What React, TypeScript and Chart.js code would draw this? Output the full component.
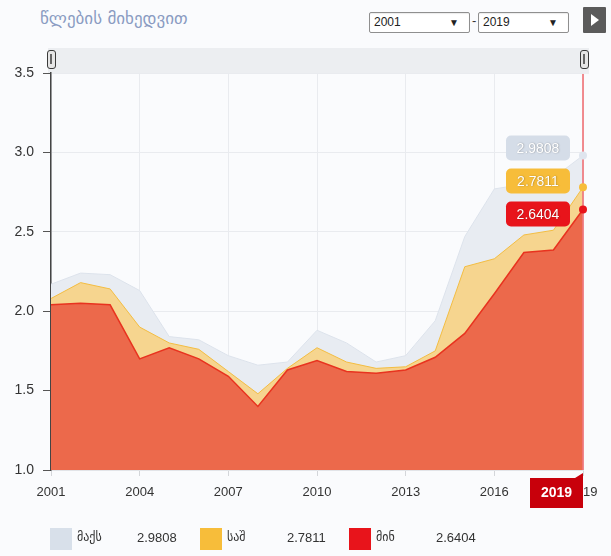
import React, { useEffect, useRef } from "react";
import { Chart, registerables } from "chart.js";

Chart.register(...registerables);

const years = ["2001", "2002", "2003", "2004", "2005", "2006", "2007", "2008", "2009", "2010", "2011", "2012", "2013", "2014", "2015", "2016", "2017", "2018", "2019"];
const maxValues = [2.17, 2.24, 2.23, 2.13, 1.84, 1.82, 1.72, 1.66, 1.68, 1.88, 1.8, 1.68, 1.72, 1.94, 2.47, 2.77, 2.8, 2.84, 2.9808];
const avgValues = [2.08, 2.18, 2.14, 1.9, 1.8, 1.76, 1.62, 1.48, 1.64, 1.77, 1.68, 1.64, 1.65, 1.75, 2.28, 2.33, 2.48, 2.51, 2.7811];
const minValues = [2.04, 2.05, 2.04, 1.7, 1.77, 1.7, 1.59, 1.4, 1.63, 1.69, 1.62, 1.61, 1.63, 1.71, 1.86, 2.11, 2.37, 2.385, 2.6404];
const seriesNames = ["მაქს", "საშ", "მინ"];
const seriesLabels = ["2.9808", "2.7811", "2.6404"];
const titleText = "წლების მიხედვით";
const rangeFrom = "2001";
const rangeTo = "2019";
const yMin = 1.0;
const yMax = 3.5;
const yStep = 0.5;

const COLORS = {
  maxFill: "#e8ecf2",
  maxLine: "#dde3ec",
  maxBox: "#d5dde8",
  avgFill: "#f6d58f",
  avgLine: "#f3bd42",
  avgBox: "#f7bd3a",
  minFill: "#ec694b",
  minLine: "#e8331f",
  minBox: "#e8141b",
};

const overlayPlugin = {
  id: "overlayPlugin",
  afterDatasetsDraw(chart: any) {
    const ctx = chart.ctx;
    const xs = chart.scales.x;
    const ys = chart.scales.y;
    const area = chart.chartArea;
    const idx = years.length - 1;
    const x = xs.getPixelForValue(idx);
    ctx.save();
    ctx.strokeStyle = "rgba(240,120,125,0.85)";
    ctx.lineWidth = 2;
    ctx.beginPath();
    ctx.moveTo(x, area.top + 1);
    ctx.lineTo(x, area.bottom);
    ctx.stroke();

    const series = [
      { v: maxValues[idx], box: COLORS.maxBox, dot: "#dfe5ee", text: seriesLabels[0] },
      { v: avgValues[idx], box: COLORS.avgBox, dot: "#f7bd3a", text: seriesLabels[1] },
      { v: minValues[idx], box: COLORS.minBox, dot: "#e8141b", text: seriesLabels[2] },
    ];
    series.forEach((s) => {
      const y = ys.getPixelForValue(s.v);
      ctx.beginPath();
      ctx.arc(x, y, 4, 0, Math.PI * 2);
      ctx.fillStyle = s.dot;
      ctx.fill();
    });
    const bh = 25;
    const gap = 33;
    const ysNat = series.map((s) => ys.getPixelForValue(s.v));
    const mean = ysNat.reduce((a, b) => a + b, 0) / ysNat.length;
    const centers = ysNat.map((_, i) => mean + (i - 1) * gap - 3);
    ctx.font = "14px 'Liberation Sans', Arial, sans-serif";
    ctx.textAlign = "center";
    ctx.textBaseline = "middle";
    series.forEach((s, i) => {
      const bw = 64;
      const bx = x - 13 - bw;
      const by = centers[i] - bh / 2;
      ctx.beginPath();
      ctx.roundRect(bx, by, bw, bh, 5);
      ctx.fillStyle = s.box;
      ctx.fill();
      ctx.save();
      ctx.shadowColor = "rgba(0,0,0,0.35)";
      ctx.shadowBlur = 1.5;
      ctx.shadowOffsetX = 0.5;
      ctx.shadowOffsetY = 0.5;
      ctx.fillStyle = "#ffffff";
      ctx.fillText(s.text, bx + bw / 2, by + bh / 2 + 1);
      ctx.restore();
    });

    const boxR = x;
    const boxL = x - 53;
    const boxT = area.bottom + 8;
    const boxB = area.bottom + 38;
    ctx.beginPath();
    ctx.moveTo(boxL, boxT);
    ctx.lineTo(boxR - 8, boxT);
    ctx.lineTo(boxR, boxT - 5);
    ctx.lineTo(boxR, boxB);
    ctx.lineTo(boxL, boxB);
    ctx.closePath();
    ctx.fillStyle = "#c8000b";
    ctx.fill();
    ctx.fillStyle = "#ffffff";
    ctx.font = "bold 14px 'Liberation Sans', Arial, sans-serif";
    ctx.fillText(years[idx], (boxL + boxR) / 2, (boxT + boxB) / 2);
    ctx.restore();
  },
};

function ChartCanvas() {
  const ref = useRef<HTMLCanvasElement | null>(null);
  useEffect(() => {
    if (!ref.current) return;
    const lineDs = (label: string, data: number[], fill: string, line: string, w: number) => ({
      label,
      data,
      backgroundColor: fill,
      borderColor: line,
      borderWidth: w,
      fill: "start",
      pointRadius: 0,
      tension: 0,
    });
    const chart = new Chart(ref.current, {
      type: "line",
      data: {
        labels: years,
        datasets: [
          lineDs(seriesNames[2], minValues, COLORS.minFill, COLORS.minLine, 1.5),
          lineDs(seriesNames[1], avgValues, COLORS.avgFill, COLORS.avgLine, 1),
          lineDs(seriesNames[0], maxValues, COLORS.maxFill, COLORS.maxLine, 1),
        ],
      },
      options: {
        animation: false,
        responsive: false,
        devicePixelRatio: 1,
        layout: { padding: { top: 73, right: 28, bottom: 56, left: 0 } },
        plugins: { legend: { display: false }, tooltip: { enabled: false } },
        scales: {
          x: {
            type: "category",
            offset: false,
            afterFit: (s: any) => {
              s.height = 30;
            },
            grid: {
              color: (c: any) => (c.index % 3 === 0 ? "#e9ebef" : "rgba(0,0,0,0)"),
              tickColor: (c: any) => (c.index % 3 === 0 ? "#d4d6da" : "rgba(0,0,0,0)"),
              tickLength: 6,
            },
            border: { display: true, color: "#e2e4e8" },
            ticks: {
              autoSkip: false,
              maxRotation: 0,
              padding: 9,
              color: "#333",
              font: { family: "'Liberation Sans', Arial, sans-serif", size: 13 },
              callback: (_v: any, i: number) => (i % 3 === 0 ? years[i] : ""),
            },
          },
          y: {
            min: yMin,
            max: yMax,
            afterFit: (s: any) => {
              s.width = 51;
            },
            grid: { color: "#e9ebef", tickColor: "#555", tickLength: 8 },
            border: { display: true, color: "#444", width: 1.5 },
            ticks: {
              stepSize: yStep,
              padding: 9,
              color: "#333",
              font: { family: "'Liberation Sans', Arial, sans-serif", size: 14 },
              callback: (v: any) => Number(v).toFixed(1),
            },
          },
        },
      },
      plugins: [overlayPlugin],
    });
    return () => chart.destroy();
  }, []);
  return <canvas ref={ref} width={611} height={556} style={{ position: "absolute", left: 0, top: 0, width: 611, height: 556 }} />;
}

const selectStyle: React.CSSProperties = {
  position: "absolute",
  top: 12,
  height: 21,
  boxSizing: "border-box",
  border: "1px solid #8f8f8f",
  borderRadius: 2,
  background: "#fff",
  fontFamily: "'Liberation Sans', Arial, sans-serif",
  fontSize: 12,
  color: "#222",
  lineHeight: "19px",
  paddingLeft: 4,
  boxShadow: "inset 0 1px 1px rgba(0,0,0,0.08)",
};

function Handle({ left }: { left: number }) {
  return (
    <div
      style={{
        position: "absolute",
        left,
        top: 50,
        width: 9,
        height: 19,
        boxSizing: "border-box",
        border: "1.5px solid #3a3a3a",
        borderRadius: 3,
        background: "#e6e6e6",
      }}
    >
      <div style={{ position: "absolute", left: 2, top: 3, width: 2, height: 10, background: "#666" }} />
    </div>
  );
}

function LegendItem({ left, color, name, value }: { left: number; color: string; name: string; value: string }) {
  const font = "'DejaVu Sans', 'Liberation Sans', sans-serif";
  return (
    <>
      <div style={{ position: "absolute", left, top: 528, width: 22, height: 22, background: color }} />
      <div style={{ position: "absolute", left: left + 27, top: 530, fontFamily: font, fontSize: 12, color: "#333" }}>{name}</div>
      <div style={{ position: "absolute", left: left + 87, top: 530, fontFamily: "'Liberation Sans', Arial, sans-serif", fontSize: 13, color: "#333" }}>{value}</div>
    </>
  );
}

export default function App() {
  return (
    <div style={{ position: "fixed", left: 0, top: 0, width: 611, height: 556, background: "#fafbfd", overflow: "hidden" }}>
      <div
        style={{
          position: "absolute",
          left: 40,
          top: 8,
          fontFamily: "'DejaVu Sans', sans-serif",
          fontSize: 17,
          color: "#8a9bc2",
          whiteSpace: "nowrap",
        }}
      >
        {titleText}
      </div>
      <div style={{ ...selectStyle, left: 369, width: 101 }}>
        {rangeFrom}
        <span style={{ position: "absolute", right: 10, top: 0, fontSize: 10 }}>▼</span>
      </div>
      <div style={{ position: "absolute", left: 472, top: 13, fontFamily: "Arial, sans-serif", fontSize: 13, color: "#333" }}>-</div>
      <div style={{ ...selectStyle, left: 478, width: 91 }}>
        {rangeTo}
        <span style={{ position: "absolute", right: 10, top: 0, fontSize: 10 }}>▼</span>
      </div>
      <div style={{ position: "absolute", left: 583, top: 7, width: 23, height: 26, background: "#5b5b5b", borderRadius: 1 }}>
        <div
          style={{
            position: "absolute",
            left: 8,
            top: 7,
            width: 0,
            height: 0,
            borderTop: "6px solid transparent",
            borderBottom: "6px solid transparent",
            borderLeft: "8px solid #fff",
          }}
        />
      </div>
      <div style={{ position: "absolute", left: 48, top: 48, width: 541, height: 26, background: "#eceef1" }} />
      <ChartCanvas />
      <Handle left={47} />
      <Handle left={580} />
      <LegendItem left={50} color="#d8e0ea" name={seriesNames[0]} value={seriesLabels[0]} />
      <LegendItem left={200} color="#f7bd3a" name={seriesNames[1]} value={seriesLabels[1]} />
      <LegendItem left={349} color="#e8141b" name={seriesNames[2]} value={seriesLabels[2]} />
    </div>
  );
}
